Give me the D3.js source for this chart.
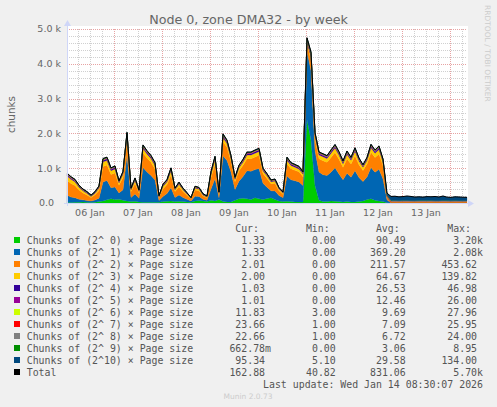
<!DOCTYPE html>
<html>
<head>
<meta charset="utf-8">
<script src="https://cdn.jsdelivr.net/npm/d3@7"></script>
<style>
  body { margin: 0; background: #f0f0f0; }
  svg text { font-family: "DejaVu Sans", sans-serif; }
  svg text.mono { font-family: "DejaVu Sans Mono", monospace; white-space: pre; }
</style>
</head>
<body>
<div id="chart"></div>
<script>
// one sample every 2 hours, 06 Jan 00:30 -> 14 Jan 08:30 (UTC)
const startTime = Date.UTC(2026, 0, 6, 0, 30);
const endTime = Date.UTC(2026, 0, 14, 8, 30);
const stepHours = 2;

const seriesNames = [
  "Chunks of (2^ 0) × Page size",
  "Chunks of (2^ 1) × Page size",
  "Chunks of (2^ 2) × Page size",
  "Chunks of (2^ 3) × Page size",
  "Chunks of (2^ 4) × Page size",
  "Chunks of (2^ 5) × Page size",
  "Chunks of (2^ 6) × Page size",
  "Chunks of (2^ 7) × Page size",
  "Chunks of (2^ 8) × Page size",
  "Chunks of (2^ 9) × Page size",
  "Chunks of (2^10) × Page size",
];
const seriesColors = [
  "#00cc00", "#0066b3", "#ff8000", "#ffcc00", "#330099", "#990099",
  "#ccff00", "#ff0000", "#808080", "#008f00", "#00487d",
];

const pow0 = [
  20, 15, 20, 25, 30, 20, 15, 25, 40, 60, 90, 120, 100, 110, 80, 60, 40, 50, 30,
  20, 20, 20, 20, 20, 40, 50, 60, 40, 50, 40, 30, 20, 60, 70, 60, 40, 80, 60, 100,
  40, 30, 30, 80, 120, 140, 120, 100, 150, 120, 100, 130, 150, 100, 60, 40,
  50, 40, 30, 30, 30,
  2400, 1800, 500,
  80, 40, 40, 60, 50, 40, 30, 40, 30, 30, 40, 60, 100, 120, 80, 60, 40,
  10,
  1.3, 1.2, 1.4, 1.3, 1.3, 1.5, 1.2, 1.3, 1.4, 1.3, 1.3, 1.2, 1.4, 1.3, 1.3, 1.5, 1.3, 1.2, 1.4, 1.33,
];
const pow1 = [
  200, 155, 130, 85, 60, 50, 40, 60, 100, 540, 560, 320, 360, 180, 300, 1320, 120, 210, 105,
  1000, 870, 770, 640, 55, 150, 220, 375, 120, 180, 120, 75, 40, 135, 120, 50, 40, 320, 640, 50,
  1320, 1190, 860, 310, 505, 625, 805, 815, 810, 870, 465, 325, 200, 245, 155, 110,
  725, 625, 610, 575, 475,
  1970, 2000, 1000,
  810, 775, 750, 825, 960, 795, 635, 815, 710, 900, 690, 555, 650, 900, 805, 910, 650,
  80,
  1.3, 1.4, 1.3, 1.2, 1.3, 1.3, 1.4, 1.3, 1.3, 1.2, 1.3, 1.4, 1.3, 1.3, 1.2, 1.3, 1.4, 1.3, 1.3, 1.33,
];
const pow2 = [
  430, 390, 350, 260, 200, 160, 100, 150, 220, 450, 440, 380, 400, 220, 350, 420, 170, 300, 150,
  420, 400, 380, 320, 80, 220, 260, 380, 170, 240, 170, 120, 55, 180, 160, 90, 70, 330, 420, 100,
  400, 380, 300, 220, 300, 320, 350, 360, 360, 380, 280, 250, 200, 220, 140, 100,
  350, 320, 300, 290, 250,
  200, 310, 330,
  380, 400, 380, 420, 440, 420, 360, 420, 380, 430, 370, 320, 370, 440, 420, 440, 380,
  60,
  2, 2.1, 1.9, 2, 2, 2.2, 2, 1.9, 2, 2.1, 2, 2, 1.9, 2, 2.1, 2, 2, 1.9, 2, 2.01,
];
const pow3 = [
  130, 120, 110, 80, 60, 50, 35, 45, 70, 135, 130, 110, 120, 70, 100, 130, 50, 90, 45,
  130, 120, 110, 100, 25, 70, 80, 115, 50, 70, 50, 35, 15, 55, 50, 30, 20, 100, 130, 30,
  120, 110, 90, 70, 90, 95, 105, 105, 110, 110, 85, 75, 60, 65, 45, 30,
  105, 95, 90, 85, 75,
  60, 90, 100,
  110, 115, 110, 125, 130, 125, 105, 125, 110, 130, 110, 95, 110, 130, 125, 130, 110,
  20,
  2, 2, 2.1, 2, 1.9, 2, 2, 2.1, 2, 2, 1.9, 2, 2, 2.1, 2, 2, 1.9, 2, 2, 2.0,
];
const pow4 = [
  35, 32, 30, 25, 22, 20, 15, 20, 25, 40, 42, 35, 38, 25, 32, 45, 20, 30, 20,
  42, 40, 38, 35, 12, 25, 28, 35, 20, 25, 20, 15, 10, 22, 20, 15, 12, 30, 40, 15,
  45, 42, 35, 25, 30, 32, 38, 38, 40, 40, 30, 28, 22, 25, 18, 15,
  38, 35, 33, 32, 28,
  40, 46, 40,
  38, 38, 36, 40, 44, 40, 35, 40, 36, 42, 36, 30, 35, 42, 40, 42, 36,
  15,
  1, 1.1, 1, 1, 1.2, 1, 1, 1.1, 1, 1, 1, 1.1, 1, 1, 1.2, 1, 1, 1.1, 1, 1.03,
];
const pow5 = [
  16, 15, 14, 12, 10, 9, 7, 9, 12, 18, 19, 16, 17, 12, 15, 20, 9, 14, 9,
  20, 19, 18, 16, 6, 12, 13, 16, 9, 12, 9, 7, 5, 10, 9, 7, 6, 14, 18, 7,
  22, 20, 16, 12, 14, 15, 17, 17, 18, 18, 14, 13, 10, 12, 8, 7,
  18, 16, 15, 15, 13,
  24, 26, 20,
  17, 17, 16, 18, 20, 18, 16, 18, 16, 19, 16, 14, 16, 19, 18, 19, 16,
  7,
  1, 1, 1.1, 1, 1, 1, 1.1, 1, 1, 1, 1.1, 1, 1, 1, 1.1, 1, 1, 1, 1, 1.01,
];
const pow6 = [
  10, 9, 9, 8, 7, 6, 4, 6, 8, 12, 12, 10, 11, 8, 10, 12, 6, 9, 6,
  12, 11, 11, 10, 4, 8, 8, 10, 6, 8, 6, 5, 3, 7, 6, 5, 4, 9, 11, 5,
  13, 12, 10, 8, 9, 9, 10, 10, 11, 11, 9, 8, 7, 8, 6, 5,
  11, 10, 10, 9, 8,
  20, 28, 14,
  11, 11, 10, 12, 13, 12, 10, 12, 11, 12, 11, 9, 10, 12, 12, 13, 11,
  10,
  12, 11, 12, 13, 12, 11, 12, 12, 11, 12, 13, 12, 11, 12, 12, 11, 12, 12, 11, 11.83,
];
const pow7 = [
  3, 3, 3, 2, 2, 2, 1, 2, 3, 4, 4, 3, 3, 2, 3, 4, 2, 3, 2,
  4, 4, 3, 3, 1, 2, 2, 3, 2, 2, 2, 1, 1, 2, 2, 1, 1, 3, 4, 1,
  4, 4, 3, 2, 3, 3, 3, 3, 4, 4, 3, 2, 2, 2, 2, 1,
  3, 3, 3, 3, 2,
  5, 8, 4,
  3, 3, 3, 4, 4, 4, 3, 4, 3, 4, 3, 3, 3, 4, 4, 4, 3,
  10,
  24, 25, 23, 24, 25, 24, 23, 24, 25, 24, 24, 23, 24, 25, 24, 23, 24, 24, 23, 23.66,
];
const pow8 = [
  3, 3, 2, 2, 2, 2, 1, 2, 2, 4, 4, 3, 3, 2, 3, 4, 2, 3, 2,
  4, 4, 3, 3, 1, 2, 2, 3, 2, 2, 2, 1, 1, 2, 2, 1, 1, 3, 4, 1,
  4, 4, 3, 2, 3, 3, 3, 3, 4, 4, 3, 2, 2, 2, 2, 1,
  3, 3, 3, 3, 2,
  6, 9, 4,
  3, 3, 3, 4, 4, 4, 3, 4, 3, 4, 3, 3, 3, 4, 4, 4, 3,
  10,
  23, 24, 22, 23, 24, 23, 22, 23, 24, 23, 23, 22, 23, 24, 23, 22, 23, 23, 22, 22.66,
];
const pow9 = [
  4, 4, 3, 3, 2, 2, 1, 2, 3, 5, 5, 4, 4, 3, 4, 5, 2, 3, 2,
  5, 5, 4, 4, 1, 3, 3, 4, 2, 3, 2, 2, 1, 2, 2, 2, 1, 4, 5, 2,
  6, 5, 4, 3, 4, 4, 4, 4, 5, 5, 4, 3, 3, 3, 2, 2,
  4, 4, 4, 4, 3,
  9, 8, 5,
  4, 4, 4, 5, 5, 5, 4, 5, 4, 5, 4, 4, 4, 5, 5, 5, 4,
  2,
  0.7, 0.6, 0.7, 0.8, 0.6, 0.7, 0.7, 0.6, 0.7, 0.7, 0.8, 0.7, 0.6, 0.7, 0.7, 0.6, 0.7, 0.7, 0.7, 0.66,
];
const pow10 = [
  10, 9, 9, 8, 7, 6, 6, 6, 8, 12, 12, 10, 11, 8, 10, 12, 6, 9, 6,
  12, 11, 11, 10, 6, 8, 8, 10, 7, 8, 7, 6, 5.1, 7, 7, 6, 6, 9, 11, 6,
  13, 12, 10, 8, 9, 9, 10, 10, 11, 11, 9, 8, 7, 8, 7, 6,
  11, 10, 10, 9, 8,
  14, 14, 10,
  11, 11, 10, 12, 13, 12, 10, 12, 11, 12, 11, 9, 10, 12, 12, 13, 11,
  60,
  120, 125, 110, 115, 130, 120, 105, 110, 100, 115, 110, 120, 105, 130, 100, 95, 110, 105, 100, 95.34,
];

// legend table
const legendCur = [1.33, 1.33, 2.01, 2.0, 1.03, 1.01, 11.83, 23.66, 22.66, 0.66278, 95.34, 162.88];
const legendMin = [0, 0, 0, 0, 0, 0, 3.0, 1.0, 1.0, 0, 5.1, 40.82];
const legendAvg = [90.49, 369.2, 211.57, 64.67, 26.53, 12.46, 9.69, 7.09, 6.72, 3.06, 29.58, 831.06];
const legendMax = [3200, 2080, 453.62, 139.82, 46.98, 26.0, 27.96, 25.95, 24.0, 8.95, 134.0, 5700];

const yTicks = [0, 1000, 2000, 3000, 4000, 5000];

const allSeries = [pow0, pow1, pow2, pow3, pow4, pow5, pow6, pow7, pow8, pow9, pow10];
const keys = allSeries.map((s, i) => "p" + i);

const rows = pow0.map((v, i) => {
  const row = { time: new Date(startTime + i * stepHours * 3600 * 1000) };
  allSeries.forEach((s, k) => (row[keys[k]] = s[i]));
  return row;
});

const svg = d3
  .select("#chart")
  .append("svg")
  .attr("width", 497)
  .attr("height", 407);

const x = d3.scaleUtc().domain([startTime, endTime]).range([67, 467]);
const y = d3.scaleLinear().domain([0, 5000]).range([203, 29]);

// white canvas
svg
  .append("rect")
  .attr("x", 67)
  .attr("y", 26)
  .attr("width", 401)
  .attr("height", 177)
  .attr("fill", "#ffffff");

// minor grid
svg
  .selectAll(".hminor")
  .data(d3.range(0, 5001, 200))
  .enter()
  .append("line")
  .attr("x1", 67)
  .attr("x2", 467)
  .attr("y1", (d) => Math.round(y(d)) + 0.5)
  .attr("y2", (d) => Math.round(y(d)) + 0.5)
  .attr("stroke", "#d0d0d0")
  .attr("stroke-dasharray", "1,1");

svg
  .selectAll(".vminor")
  .data(d3.utcHour.every(6).range(new Date(startTime), new Date(endTime)))
  .enter()
  .append("line")
  .attr("x1", (d) => Math.round(x(d)) + 0.5)
  .attr("x2", (d) => Math.round(x(d)) + 0.5)
  .attr("y1", 29)
  .attr("y2", 203)
  .attr("stroke", "#d0d0d0")
  .attr("stroke-dasharray", "1,1");

// major grid
svg
  .selectAll(".hmajor")
  .data(yTicks)
  .enter()
  .append("line")
  .attr("x1", 67)
  .attr("x2", 467)
  .attr("y1", (d) => Math.round(y(d)) + 0.5)
  .attr("y2", (d) => Math.round(y(d)) + 0.5)
  .attr("stroke", "#e7a3a3")
  .attr("stroke-dasharray", "1,1");

const days = d3.utcDay.range(new Date(startTime), new Date(endTime));
svg
  .selectAll(".vmajor")
  .data(days)
  .enter()
  .append("line")
  .attr("x1", (d) => Math.round(x(d)) + 0.5)
  .attr("x2", (d) => Math.round(x(d)) + 0.5)
  .attr("y1", 29)
  .attr("y2", 203)
  .attr("stroke", "#e7a3a3")
  .attr("stroke-dasharray", "1,1");

// stacked areas
const stacked = d3.stack().keys(keys)(rows);
const area = d3
  .area()
  .x((d) => x(d.data.time))
  .y0((d) => y(d[0]))
  .y1((d) => y(d[1]));

svg
  .selectAll(".layer")
  .data(stacked)
  .enter()
  .append("path")
  .attr("d", area)
  .attr("fill", (d, i) => seriesColors[i])
  .attr("stroke", (d, i) => seriesColors[i])
  .attr("stroke-width", 0.3);

// total line
const topLayer = stacked[stacked.length - 1];
svg
  .append("path")
  .datum(topLayer)
  .attr(
    "d",
    d3
      .line()
      .x((d) => x(d.data.time))
      .y((d) => y(d[1]))
  )
  .attr("fill", "none")
  .attr("stroke", "#000")
  .attr("stroke-width", 1);

// axes
const axisColor = "#cfd6f8";
svg.append("line").attr("x1", 64).attr("x2", 469).attr("y1", 203.5).attr("y2", 203.5).attr("stroke", axisColor);
svg.append("line").attr("x1", 67.5).attr("x2", 67.5).attr("y1", 206).attr("y2", 25).attr("stroke", axisColor);
svg.append("path").attr("d", "M468,200 L474,203.5 L468,207 Z").attr("fill", axisColor);
svg.append("path").attr("d", "M64,26 L67.5,20 L71,26 Z").attr("fill", axisColor);

// y tick labels
svg
  .selectAll(".ylab")
  .data(yTicks)
  .enter()
  .append("text")
  .attr("x", (d) => (d === 0 ? 54 : 61))
  .attr("y", (d) => y(d))
  .attr("dy", "0.35em")
  .attr("text-anchor", "end")
  .attr("font-size", "9.5px")
  .attr("fill", "#666")
  .text((d) => (d === 0 ? "0.0" : (d / 1000).toFixed(1) + " k"));

// x tick labels at noon of each day that is on the chart
const labelDays = d3.utcDay
  .range(d3.utcDay.floor(new Date(startTime)), new Date(endTime))
  .filter((d) => d3.utcHour.offset(d, 12) < endTime);

svg
  .selectAll(".xlab")
  .data(labelDays)
  .enter()
  .append("text")
  .attr("x", (d) => x(d3.utcHour.offset(d, 12)))
  .attr("y", 216)
  .attr("text-anchor", "middle")
  .attr("font-size", "9.5px")
  .attr("fill", "#666")
  .text((d) => d3.utcFormat("%d %b")(d));

// title and labels
svg
  .append("text")
  .attr("x", 248.5)
  .attr("y", 24)
  .attr("text-anchor", "middle")
  .attr("font-size", "12.7px")
  .attr("fill", "#666")
  .text("Node 0, zone DMA32 - by week");

svg
  .append("text")
  .attr("transform", "translate(15,114.5) rotate(-90)")
  .attr("text-anchor", "middle")
  .attr("font-size", "10.4px")
  .attr("fill", "#666")
  .text("chunks");

svg
  .append("text")
  .attr("transform", "translate(485,5) rotate(90)")
  .attr("font-size", "7.5px")
  .attr("fill", "#cccccc")
  .text("RRDTOOL / TOBI OETIKER");

// legend
function fmt(v) {
  if (v >= 1000) return (v / 1000).toFixed(2) + "k";
  if (v > 0 && v < 1) return (v * 1000).toFixed(2) + "m";
  return v.toFixed(2) + " ";
}

const colEdges = [271, 341.7, 411.7, 483];
const headers = ["Cur:", "Min:", "Avg:", "Max:"];
headers.forEach((h, i) => {
  svg
    .append("text")
    .attr("class", "mono")
    .attr("x", colEdges[i] - 12)
    .attr("y", 232)
    .attr("text-anchor", "end")
    .attr("font-size", "9.9px")
    .attr("fill", "#555")
    .text(h);
});

const legendNames = seriesNames.concat(["Total"]);
const legendColors = seriesColors.concat(["#000000"]);

legendNames.forEach((name, i) => {
  const base = 243.5 + i * 12;
  svg
    .append("rect")
    .attr("x", 14)
    .attr("y", base - 6.5)
    .attr("width", 6)
    .attr("height", 6)
    .attr("fill", legendColors[i]);
  svg
    .append("text")
    .attr("class", "mono")
    .attr("x", 26.7)
    .attr("y", base)
    .attr("font-size", "9.9px")
    .attr("fill", "#555")
    .text(name);
  [legendCur, legendMin, legendAvg, legendMax].forEach((col, c) => {
    svg
      .append("text")
      .attr("class", "mono")
      .attr("x", colEdges[c])
      .attr("y", base)
      .attr("text-anchor", "end")
      .attr("font-size", "9.9px")
      .attr("fill", "#555")
      .text(fmt(col[i]));
  });
});

svg
  .append("text")
  .attr("class", "mono")
  .attr("x", 483)
  .attr("y", 387.5)
  .attr("text-anchor", "end")
  .attr("font-size", "9.9px")
  .attr("fill", "#555")
  .text("Last update: Wed Jan 14 08:30:07 2026");

svg
  .append("text")
  .attr("x", 248)
  .attr("y", 399)
  .attr("text-anchor", "middle")
  .attr("font-size", "7.5px")
  .attr("fill", "#cccccc")
  .text("Munin 2.0.73");
</script>
</body>
</html>
